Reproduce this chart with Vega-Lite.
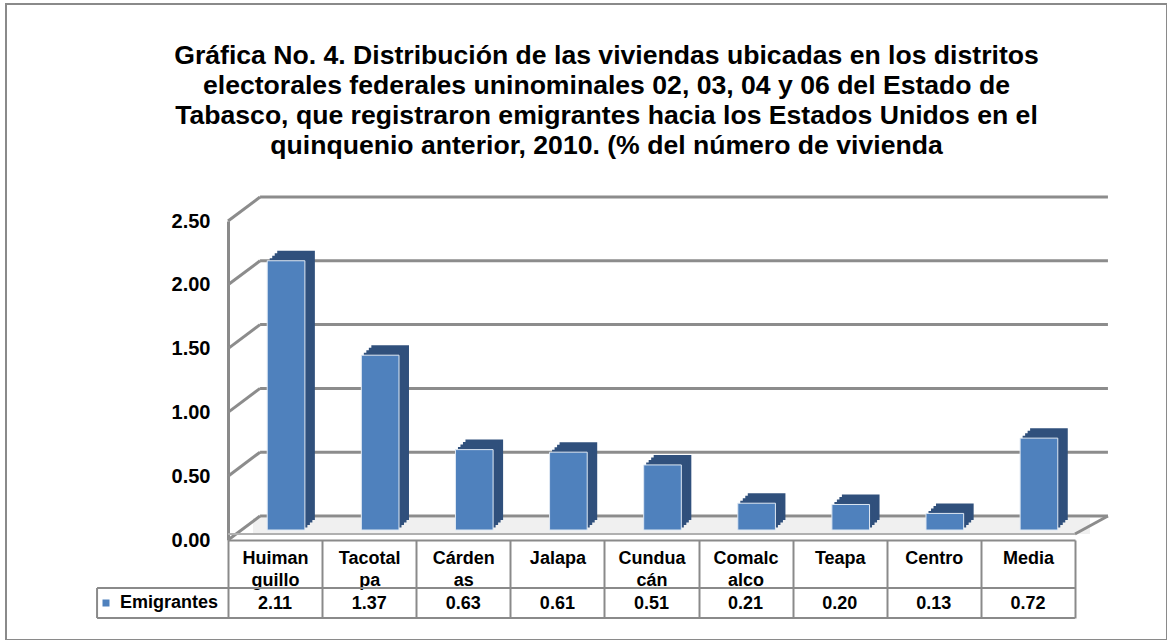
{
  "$schema": "https://vega.github.io/schema/vega-lite/v6.json",
  "width": 1161,
  "height": 636,
  "autosize": {"type": "none"},
  "padding": {"left": 6, "top": 4, "right": 0, "bottom": 0},
  "background": "white",
  "config": {"view": {"stroke": "#8a8a8a", "strokeWidth": 2}, "font": "Liberation Sans"},
  "title": {
    "text": ["Gráfica No. 4. Distribución de las viviendas ubicadas en los distritos", "electorales federales uninominales 02, 03, 04 y 06 del Estado de", "Tabasco, que registraron emigrantes hacia los Estados Unidos en el", "quinquenio anterior, 2010. (% del número de vivienda"],
    "frame": "group", "anchor": "middle", "baseline": "top", "offset": -156, "dx": 20,
    "fontSize": 26.6, "fontWeight": "bold", "lineHeight": 30, "color": "black", "font": "Liberation Sans"
  },
  "resolve": {"axis": {"x": "independent", "y": "independent"}},
  "datasets": {
    "emig": [
      {"municipio": "Huimanguillo", "valor": 2.11},
      {"municipio": "Tacotalpa", "valor": 1.37},
      {"municipio": "Cárdenas", "valor": 0.63},
      {"municipio": "Jalapa", "valor": 0.61},
      {"municipio": "Cunduacán", "valor": 0.51},
      {"municipio": "Comalcalco", "valor": 0.21},
      {"municipio": "Teapa", "valor": 0.20},
      {"municipio": "Centro", "valor": 0.13},
      {"municipio": "Media", "valor": 0.72}
    ],
    "grid": [{"v": 0}, {"v": 0.5}, {"v": 1}, {"v": 1.5}, {"v": 2}, {"v": 2.5}],
    "one": [{"k": 1}]
  },
  "data": {"name": "emig"},
  "layer": [
    {
      "data": {"name": "one"},
      "mark": {"type": "rule", "color": "#f0f0f0", "strokeWidth": 16, "xOffset": -22, "x2Offset": 62, "yOffset": -14},
      "encoding": {
        "x": {"datum": "Huimanguillo", "type": "nominal", "axis": null},
        "x2": {"datum": "Media"},
        "y": {"datum": 0, "type": "quantitative", "axis": null}
      }
    },
    {
      "data": {"name": "grid"},
      "mark": {"type": "rule", "color": "#8c8c8c", "strokeWidth": 3, "xOffset": -15, "x2Offset": 80, "yOffset": -24},
      "encoding": {
        "x": {"datum": "Huimanguillo", "type": "nominal", "axis": null},
        "x2": {"datum": "Media"},
        "y": {"field": "v", "type": "quantitative", "axis": null}
      }
    },
    {
      "data": {"name": "grid"},
      "mark": {"type": "rule", "color": "#8c8c8c", "strokeWidth": 3, "xOffset": -47, "x2Offset": -15, "y2Offset": -24},
      "encoding": {
        "x": {"datum": "Huimanguillo", "type": "nominal", "axis": null},
        "x2": {"datum": "Huimanguillo"},
        "y": {"field": "v", "type": "quantitative", "axis": null},
        "y2": {"field": "v"}
      }
    },
    {
      "data": {"name": "one"},
      "mark": {"type": "rule", "color": "#8c8c8c", "strokeWidth": 3, "xOffset": 47, "x2Offset": 80, "yOffset": -6, "y2Offset": -24},
      "encoding": {
        "x": {"datum": "Media", "type": "nominal", "axis": null},
        "x2": {"datum": "Media"},
        "y": {"datum": 0, "type": "quantitative", "axis": null},
        "y2": {"datum": 0}
      }
    },
    {
      "data": {"name": "one"},
      "mark": {"type": "rule", "color": "#b0b0b0", "strokeWidth": 2, "xOffset": -47, "x2Offset": 47, "yOffset": -6},
      "encoding": {
        "x": {"datum": "Huimanguillo", "type": "nominal", "axis": null},
        "x2": {"datum": "Media"},
        "y": {"datum": 0, "type": "quantitative", "axis": null}
      }
    },
    {
      "mark": {"type": "bar", "color": "#30507c", "width": {"band": 0.4}, "xOffset": 21, "yOffset": -20, "y2Offset": -20},
      "encoding": {
        "x": {"field": "municipio", "type": "nominal", "axis": null},
        "y": {"field": "valor", "type": "quantitative", "axis": null}
      }
    },
    {
      "mark": {"type": "bar", "color": "#30507c", "width": {"band": 0.4}, "xOffset": 18.5, "yOffset": -17.5, "y2Offset": -17.5},
      "encoding": {
        "x": {"field": "municipio", "type": "nominal", "axis": null},
        "y": {"field": "valor", "type": "quantitative", "axis": null}
      }
    },
    {
      "mark": {"type": "bar", "color": "#30507c", "width": {"band": 0.4}, "xOffset": 16, "yOffset": -15, "y2Offset": -15},
      "encoding": {
        "x": {"field": "municipio", "type": "nominal", "axis": null},
        "y": {"field": "valor", "type": "quantitative", "axis": null}
      }
    },
    {
      "mark": {"type": "bar", "color": "#30507c", "width": {"band": 0.4}, "xOffset": 13.5, "yOffset": -12.5, "y2Offset": -12.5},
      "encoding": {
        "x": {"field": "municipio", "type": "nominal", "axis": null},
        "y": {"field": "valor", "type": "quantitative", "axis": null}
      }
    },
    {
      "mark": {"type": "bar", "width": {"band": 0.4}, "xOffset": 11, "yOffset": -10, "y2Offset": -10, "stroke": "#dfe8f3", "strokeWidth": 1},
      "encoding": {
        "x": {
          "field": "municipio", "type": "nominal",
          "scale": {"domain": ["Huimanguillo", "Tacotalpa", "Cárdenas", "Jalapa", "Cunduacán", "Comalcalco", "Teapa", "Centro", "Media"], "range": [222, 1069], "paddingInner": 0, "paddingOuter": 0},
          "axis": {
            "title": null, "orient": "bottom", "offset": -100,
            "domainColor": "#8a8a8a", "domainWidth": 2,
            "tickBand": "extent", "tickSize": 78, "tickColor": "#8a8a8a", "tickWidth": 2,
            "labelPadding": -69, "labelBaseline": "top", "labelLineHeight": 22,
            "labelFont": "Liberation Sans", "labelFontSize": 18, "labelFontWeight": "bold", "labelColor": "black",
            "labelAngle": 0, "labelOverlap": false, "labelBound": false,
            "labelExpr": "datum.label == 'Tacotalpa' ? ['Tacotal', 'pa'] : (length(datum.label) > 6 ? [substring(datum.label, 0, 6), substring(datum.label, 6)] : datum.label)"
          }
        },
        "y": {
          "field": "valor", "type": "quantitative",
          "scale": {"domain": [0, 2.5], "range": [536, 217], "nice": false},
          "axis": {
            "title": null, "orient": "left", "offset": -222,
            "values": [0, 0.5, 1, 1.5, 2, 2.5], "format": ".2f",
            "grid": false, "ticks": false,
            "domainColor": "#8a8a8a", "domainWidth": 3,
            "labelPadding": 18, "labelFont": "Liberation Sans", "labelFontSize": 20, "labelFontWeight": "bold", "labelColor": "black"
          }
        },
        "color": {
          "datum": "Emigrantes",
          "type": "nominal",
          "scale": {"range": ["#4f81bd"]},
          "legend": {
            "title": null, "orient": "none", "legendX": 91, "legendY": 590,
            "symbolType": "square", "symbolSize": 49, "symbolStrokeWidth": 0,
            "labelFont": "Liberation Sans", "labelFontSize": 18, "labelFontWeight": "bold", "labelColor": "black",
            "labelOffset": 5, "padding": 0
          }
        }
      }
    },
    {
      "mark": {"type": "text", "yOffset": 64, "baseline": "middle", "align": "center", "font": "Liberation Sans", "fontSize": 18, "fontWeight": "bold", "color": "black"},
      "encoding": {
        "x": {"field": "municipio", "type": "nominal", "axis": null},
        "y": {"datum": 0, "type": "quantitative", "axis": null},
        "text": {"field": "valor", "type": "quantitative", "format": ".2f"}
      }
    },
    {
      "data": {"name": "one"},
      "mark": {"type": "rule", "color": "#8a8a8a", "strokeWidth": 2, "xOffset": -178, "x2Offset": 47, "yOffset": 48},
      "encoding": {
        "x": {"datum": "Huimanguillo", "type": "nominal", "axis": null},
        "x2": {"datum": "Media"},
        "y": {"datum": 0, "type": "quantitative", "axis": null}
      }
    },
    {
      "data": {"name": "one"},
      "mark": {"type": "rule", "color": "#8a8a8a", "strokeWidth": 2, "xOffset": -178, "x2Offset": 47, "yOffset": 78},
      "encoding": {
        "x": {"datum": "Huimanguillo", "type": "nominal", "axis": null},
        "x2": {"datum": "Media"},
        "y": {"datum": 0, "type": "quantitative", "axis": null}
      }
    },
    {
      "data": {"name": "one"},
      "mark": {"type": "rule", "color": "#8a8a8a", "strokeWidth": 2, "xOffset": -178, "yOffset": 48, "y2Offset": 78},
      "encoding": {
        "x": {"datum": "Huimanguillo", "type": "nominal", "axis": null},
        "y": {"datum": 0, "type": "quantitative", "axis": null},
        "y2": {"datum": 0}
      }
    }
  ]
}
